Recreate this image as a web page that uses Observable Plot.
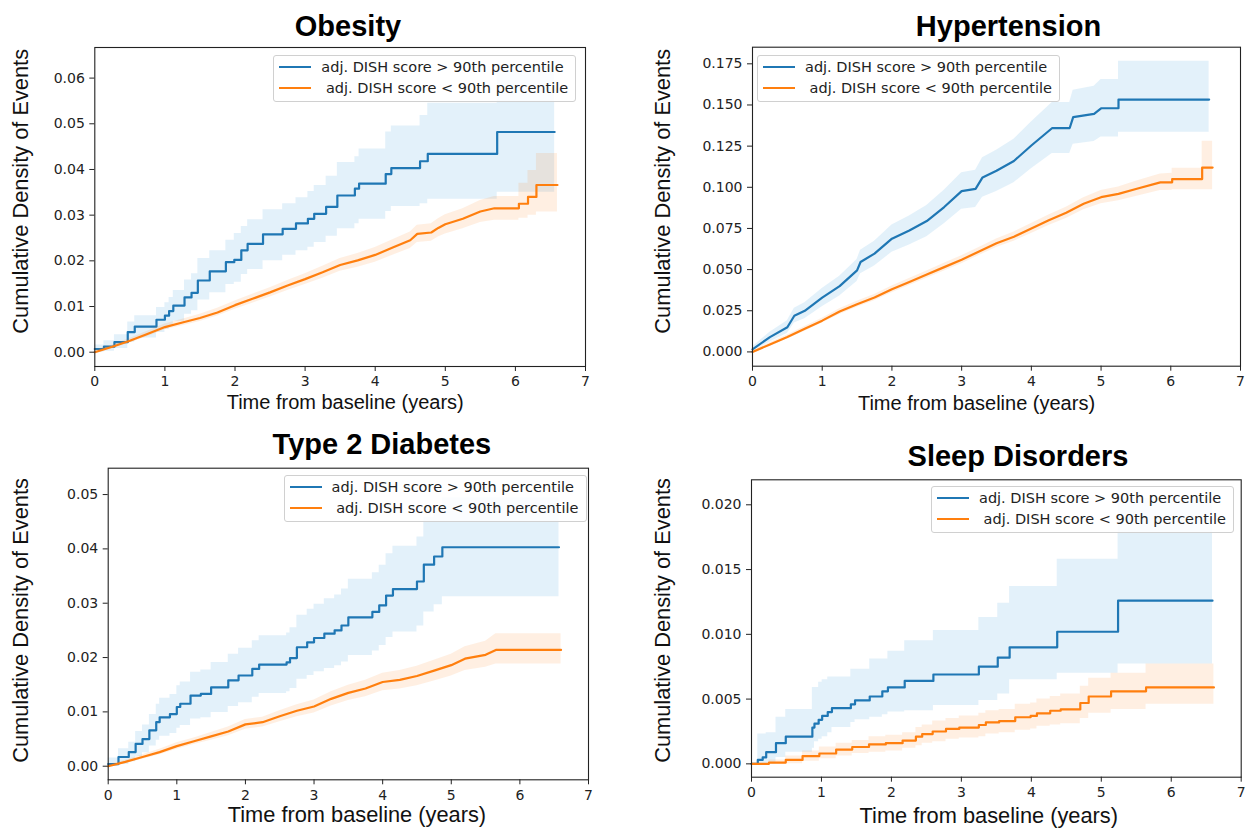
<!DOCTYPE html>
<html>
<head>
<meta charset="utf-8">
<script src="https://cdn.jsdelivr.net/npm/d3@7"></script>
<script src="https://cdn.jsdelivr.net/npm/@observablehq/plot@0.6"></script>
<style>
  body { margin: 0; background: #fff; }
  #fig { position: relative; width: 1253px; height: 831px; overflow: hidden; background: #fff; }
  .panel { position: absolute; }
  .panel svg { display: block; }
  .legend {
    position: absolute; box-sizing: border-box; width: 303px; height: 47px;
    border: 1px solid #d0d0d0; border-radius: 3px; background: rgba(255,255,255,0.85);
    font-family: "DejaVu Sans", sans-serif; font-size: 14.5px; color: #222;
  }
  .legend .sw { position: absolute; left: 5px; width: 32px; height: 2px; }
  .legend .lbl { position: absolute; left: 47px; white-space: pre; line-height: 1; }
</style>
</head>
<body>
<div id="fig"></div>
<script>
// Cumulative density of events: [years, estimate, lower CI, upper CI]

const seriesNames = ["adj. DISH score > 90th percentile", " adj. DISH score < 90th percentile"];
const seriesColors = ["#1f77b4", "#ff7f0e"];
const bandColors = ["#3b99dd", "#ff7f0e"];
const bandOpacity = [0.14, 0.12];
const xTicks = [0, 1, 2, 3, 4, 5, 6, 7];
const xLabel = "Time from baseline (years)";
const yLabel = "Cumulative Density of Events";

// Obesity
const obesityHigh = [
  [0.00, 0.0007, 0.0000, 0.0016], [0.13, 0.0012, 0.0002, 0.0025], [0.28, 0.0022, 0.0008, 0.0038],
  [0.47, 0.0044, 0.0022, 0.0066], [0.57, 0.0056, 0.0031, 0.0080], [0.88, 0.0071, 0.0043, 0.0098],
  [1.00, 0.0080, 0.0050, 0.0108], [1.06, 0.0090, 0.0058, 0.0120], [1.12, 0.0102, 0.0068, 0.0135],
  [1.28, 0.0120, 0.0083, 0.0158], [1.38, 0.0130, 0.0091, 0.0172], [1.47, 0.0157, 0.0114, 0.0205],
  [1.64, 0.0177, 0.0130, 0.0222], [1.87, 0.0197, 0.0148, 0.0245], [1.99, 0.0202, 0.0153, 0.0260],
  [2.09, 0.0223, 0.0170, 0.0275], [2.18, 0.0237, 0.0181, 0.0290], [2.40, 0.0258, 0.0200, 0.0312],
  [2.68, 0.0270, 0.0212, 0.0325], [2.87, 0.0282, 0.0222, 0.0338], [3.04, 0.0292, 0.0230, 0.0352],
  [3.13, 0.0303, 0.0240, 0.0365], [3.30, 0.0318, 0.0254, 0.0385], [3.46, 0.0343, 0.0270, 0.0415],
  [3.71, 0.0358, 0.0281, 0.0428], [3.77, 0.0369, 0.0291, 0.0445], [4.15, 0.0390, 0.0308, 0.0482],
  [4.23, 0.0403, 0.0319, 0.0495], [4.64, 0.0418, 0.0325, 0.0518], [4.75, 0.0434, 0.0335, 0.0545],
  [5.74, 0.0482, 0.0350, 0.0630], [6.56, 0.0482, 0.0350, 0.0630]
];
const obesityLow = [
  [0.00, 0.0000, 0.0000, 0.0004], [0.25, 0.0012, 0.0008, 0.0016], [0.50, 0.0025, 0.0020, 0.0030],
  [0.75, 0.0040, 0.0034, 0.0046], [1.00, 0.0055, 0.0049, 0.0062], [1.25, 0.0065, 0.0058, 0.0072],
  [1.50, 0.0075, 0.0067, 0.0083], [1.75, 0.0087, 0.0079, 0.0096], [2.00, 0.0103, 0.0094, 0.0112],
  [2.25, 0.0117, 0.0107, 0.0127], [2.50, 0.0131, 0.0121, 0.0141], [2.75, 0.0146, 0.0135, 0.0157],
  [3.00, 0.0160, 0.0148, 0.0172], [3.25, 0.0175, 0.0162, 0.0188], [3.50, 0.0191, 0.0177, 0.0205],
  [3.75, 0.0201, 0.0186, 0.0216], [4.00, 0.0213, 0.0197, 0.0229], [4.25, 0.0229, 0.0212, 0.0246],
  [4.50, 0.0245, 0.0227, 0.0263], [4.60, 0.0259, 0.0240, 0.0278], [4.80, 0.0262, 0.0243, 0.0281],
  [4.90, 0.0272, 0.0252, 0.0292], [5.00, 0.0280, 0.0259, 0.0301], [5.25, 0.0292, 0.0270, 0.0314],
  [5.50, 0.0308, 0.0284, 0.0332], [5.70, 0.0315, 0.0289, 0.0341], [6.05, 0.0315, 0.0289, 0.0341],
  [6.05, 0.0325, 0.0293, 0.0370], [6.18, 0.0325, 0.0293, 0.0370], [6.18, 0.0340, 0.0300, 0.0398],
  [6.30, 0.0340, 0.0300, 0.0398], [6.30, 0.0366, 0.0307, 0.0435], [6.60, 0.0366, 0.0307, 0.0435]
];
const obesityTicks = [0, 0.01, 0.02, 0.03, 0.04, 0.05, 0.06];

// Hypertension
const hypertensionHigh = [
  [0.00, 0.0016, 0.0005, 0.0030], [0.25, 0.0090, 0.0060, 0.0120], [0.50, 0.0150, 0.0112, 0.0190],
  [0.60, 0.0220, 0.0175, 0.0265], [0.75, 0.0250, 0.0202, 0.0298], [1.00, 0.0330, 0.0275, 0.0385],
  [1.25, 0.0400, 0.0340, 0.0460], [1.50, 0.0495, 0.0428, 0.0562], [1.55, 0.0546, 0.0475, 0.0617],
  [1.75, 0.0597, 0.0522, 0.0672], [2.00, 0.0688, 0.0605, 0.0771], [2.25, 0.0738, 0.0650, 0.0826],
  [2.50, 0.0795, 0.0700, 0.0890], [2.75, 0.0880, 0.0778, 0.0982], [3.00, 0.0977, 0.0866, 0.1088],
  [3.20, 0.0990, 0.0877, 0.1103], [3.30, 0.1060, 0.0940, 0.1180], [3.50, 0.1100, 0.0975, 0.1225],
  [3.75, 0.1160, 0.1028, 0.1292], [4.00, 0.1254, 0.1112, 0.1396], [4.30, 0.1360, 0.1205, 0.1515],
  [4.55, 0.1360, 0.1205, 0.1515], [4.60, 0.1426, 0.1262, 0.1590], [4.90, 0.1446, 0.1278, 0.1614],
  [5.00, 0.1480, 0.1305, 0.1655], [5.25, 0.1480, 0.1305, 0.1655], [5.25, 0.1533, 0.1335, 0.1765],
  [6.55, 0.1533, 0.1335, 0.1765]
];
const hypertensionLow = [
  [0.00, 0.0000, 0.0000, 0.0008], [0.25, 0.0045, 0.0035, 0.0055], [0.50, 0.0090, 0.0078, 0.0102],
  [0.75, 0.0140, 0.0126, 0.0154], [1.00, 0.0190, 0.0175, 0.0205], [1.25, 0.0245, 0.0228, 0.0262],
  [1.50, 0.0290, 0.0272, 0.0308], [1.75, 0.0330, 0.0311, 0.0349], [2.00, 0.0380, 0.0360, 0.0400],
  [2.25, 0.0425, 0.0404, 0.0446], [2.50, 0.0470, 0.0448, 0.0492], [2.75, 0.0515, 0.0492, 0.0538],
  [3.00, 0.0560, 0.0536, 0.0584], [3.25, 0.0610, 0.0585, 0.0635], [3.50, 0.0660, 0.0634, 0.0686],
  [3.75, 0.0700, 0.0672, 0.0728], [4.00, 0.0750, 0.0720, 0.0780], [4.25, 0.0800, 0.0768, 0.0832],
  [4.50, 0.0845, 0.0811, 0.0879], [4.75, 0.0900, 0.0863, 0.0937], [5.00, 0.0940, 0.0900, 0.0980],
  [5.25, 0.0960, 0.0918, 0.1002], [5.50, 0.0990, 0.0944, 0.1036], [5.85, 0.1030, 0.0980, 0.1080],
  [6.02, 0.1030, 0.0982, 0.1085], [6.02, 0.1050, 0.0985, 0.1115], [6.45, 0.1050, 0.0985, 0.1115],
  [6.45, 0.1120, 0.0985, 0.1280], [6.60, 0.1120, 0.0985, 0.1280]
];
const hypertensionTicks = [0, 0.025, 0.05, 0.075, 0.1, 0.125, 0.15, 0.175];

// Type 2 Diabetes
const diabetesHigh = [
  [0.00, 0.0004, 0.0000, 0.0015], [0.15, 0.0017, 0.0003, 0.0032], [0.30, 0.0026, 0.0008, 0.0044],
  [0.40, 0.0041, 0.0018, 0.0064], [0.50, 0.0050, 0.0025, 0.0076], [0.60, 0.0066, 0.0037, 0.0095],
  [0.70, 0.0081, 0.0048, 0.0114], [0.75, 0.0090, 0.0055, 0.0125], [0.90, 0.0096, 0.0060, 0.0132],
  [1.00, 0.0109, 0.0070, 0.0148], [1.05, 0.0115, 0.0075, 0.0155], [1.20, 0.0130, 0.0087, 0.0173],
  [1.35, 0.0133, 0.0089, 0.0177], [1.50, 0.0145, 0.0099, 0.0191], [1.75, 0.0158, 0.0110, 0.0206],
  [1.90, 0.0167, 0.0117, 0.0217], [2.10, 0.0179, 0.0127, 0.0231], [2.20, 0.0187, 0.0134, 0.0240],
  [2.60, 0.0191, 0.0137, 0.0245], [2.65, 0.0199, 0.0143, 0.0255], [2.75, 0.0219, 0.0160, 0.0278],
  [2.90, 0.0228, 0.0167, 0.0289], [3.00, 0.0236, 0.0174, 0.0298], [3.15, 0.0244, 0.0180, 0.0308],
  [3.30, 0.0250, 0.0185, 0.0315], [3.40, 0.0259, 0.0192, 0.0326], [3.50, 0.0274, 0.0204, 0.0344],
  [3.85, 0.0284, 0.0212, 0.0356], [3.95, 0.0296, 0.0222, 0.0370], [4.05, 0.0314, 0.0237, 0.0391],
  [4.15, 0.0326, 0.0247, 0.0405], [4.50, 0.0340, 0.0258, 0.0422], [4.60, 0.0371, 0.0284, 0.0458],
  [4.75, 0.0386, 0.0297, 0.0475], [4.87, 0.0403, 0.0312, 0.0494], [6.57, 0.0403, 0.0312, 0.0494]
];
const diabetesLow = [
  [0.00, 0.0000, 0.0000, 0.0003], [0.25, 0.0008, 0.0005, 0.0011], [0.50, 0.0017, 0.0013, 0.0021],
  [0.75, 0.0026, 0.0021, 0.0031], [1.00, 0.0037, 0.0031, 0.0043], [1.25, 0.0046, 0.0040, 0.0052],
  [1.50, 0.0055, 0.0048, 0.0062], [1.75, 0.0064, 0.0056, 0.0072], [2.00, 0.0077, 0.0068, 0.0086],
  [2.25, 0.0081, 0.0072, 0.0090], [2.50, 0.0092, 0.0082, 0.0102], [2.75, 0.0102, 0.0091, 0.0113],
  [3.00, 0.0110, 0.0098, 0.0122], [3.25, 0.0124, 0.0111, 0.0137], [3.50, 0.0135, 0.0121, 0.0149],
  [3.75, 0.0143, 0.0128, 0.0158], [4.00, 0.0155, 0.0139, 0.0171], [4.25, 0.0159, 0.0142, 0.0176],
  [4.50, 0.0166, 0.0148, 0.0184], [4.75, 0.0176, 0.0157, 0.0195], [5.00, 0.0186, 0.0166, 0.0206],
  [5.20, 0.0198, 0.0176, 0.0220], [5.50, 0.0205, 0.0182, 0.0230], [5.65, 0.0214, 0.0188, 0.0244],
  [6.60, 0.0214, 0.0188, 0.0244]
];
const diabetesTicks = [0, 0.01, 0.02, 0.03, 0.04, 0.05];

// Sleep Disorders
const sleepHigh = [
  [0.00, 0.0000, 0.0000, 0.0000], [0.09, 0.0003, 0.0000, 0.0023], [0.16, 0.0005, 0.0000, 0.0023],
  [0.21, 0.0009, 0.0000, 0.0024], [0.35, 0.0016, 0.0005, 0.0036], [0.49, 0.0021, 0.0009, 0.0042],
  [0.87, 0.0028, 0.0012, 0.0059], [0.90, 0.0031, 0.0017, 0.0059], [0.96, 0.0034, 0.0019, 0.0063],
  [1.01, 0.0037, 0.0021, 0.0065], [1.09, 0.0040, 0.0024, 0.0067], [1.15, 0.0043, 0.0028, 0.0067],
  [1.42, 0.0046, 0.0032, 0.0073], [1.48, 0.0049, 0.0034, 0.0073], [1.69, 0.0052, 0.0036, 0.0081],
  [1.87, 0.0056, 0.0038, 0.0081], [1.95, 0.0059, 0.0040, 0.0087], [2.19, 0.0064, 0.0041, 0.0095],
  [2.60, 0.0069, 0.0045, 0.0103], [3.25, 0.0075, 0.0049, 0.0113], [3.52, 0.0082, 0.0054, 0.0124],
  [3.69, 0.0090, 0.0065, 0.0137], [4.37, 0.0102, 0.0070, 0.0158], [5.24, 0.0126, 0.0077, 0.0205],
  [6.59, 0.0126, 0.0077, 0.0205]
];
const sleepLow = [
  [0.00, 0.0000, 0.0000, 0.0000], [0.25, 0.0001, 0.0000, 0.0003], [0.49, 0.0003, 0.0000, 0.0006],
  [0.73, 0.0006, 0.0002, 0.0010], [0.97, 0.0008, 0.0004, 0.0013], [1.21, 0.0011, 0.0006, 0.0016],
  [1.44, 0.0013, 0.0008, 0.0018], [1.68, 0.0015, 0.0009, 0.0021], [1.92, 0.0016, 0.0010, 0.0022],
  [2.16, 0.0018, 0.0012, 0.0024], [2.35, 0.0021, 0.0014, 0.0028], [2.44, 0.0023, 0.0016, 0.0030],
  [2.59, 0.0025, 0.0017, 0.0033], [2.78, 0.0027, 0.0019, 0.0035], [2.97, 0.0028, 0.0020, 0.0037],
  [3.25, 0.0030, 0.0021, 0.0039], [3.35, 0.0032, 0.0023, 0.0041], [3.54, 0.0033, 0.0024, 0.0042],
  [3.77, 0.0036, 0.0026, 0.0046], [3.99, 0.0037, 0.0027, 0.0047], [4.08, 0.0039, 0.0029, 0.0050],
  [4.27, 0.0041, 0.0030, 0.0052], [4.42, 0.0042, 0.0031, 0.0054], [4.70, 0.0047, 0.0035, 0.0060],
  [4.82, 0.0052, 0.0039, 0.0066], [5.14, 0.0056, 0.0042, 0.0070], [5.64, 0.0059, 0.0046, 0.0077],
  [6.61, 0.0059, 0.0046, 0.0077]
];
const sleepTicks = [0, 0.005, 0.01, 0.015, 0.02];

// Page layout (absolute page pixels): panel box, plot frame, text anchors.
const panels = [
  {
    title: "Obesity", series: [obesityHigh, obesityLow], curves: ["step-after", "linear"],
    yTicks: obesityTicks, fmt: ".2f", yDomain: [-0.00313, 0.0667],
    box: {x: 0, y: 0, w: 626, h: 420}, frame: {l: 94.3, r: 585, t: 47, b: 366},
    titleAt: [347.5, 35], yLabelAt: [27.1, 190.8], xLabelAt: [344.7, 408.3], xLabelSize: 20,
    legendAt: [273.3, 55]
  },
  {
    title: "Hypertension", series: [hypertensionHigh, hypertensionLow], curves: ["linear", "linear"],
    yTicks: hypertensionTicks, fmt: ".3f", yDomain: [-0.00868, 0.1851],
    box: {x: 626, y: 0, w: 627, h: 420}, frame: {l: 752, r: 1240, t: 46.7, b: 365.7},
    titleAt: [1008, 35], yLabelAt: [669.3, 190.8], xLabelAt: [976, 409.3], xLabelSize: 20,
    legendAt: [757, 55]
  },
  {
    title: "Type 2 Diabetes", series: [diabetesHigh, diabetesLow], curves: ["step-after", "linear"],
    yTicks: diabetesTicks, fmt: ".2f", yDomain: [-0.0025, 0.05485],
    box: {x: 0, y: 420, w: 626, h: 411}, frame: {l: 107.7, r: 588, t: 467.7, b: 779.3},
    titleAt: [381.4, 453.3], yLabelAt: [27.1, 620], xLabelAt: [356.4, 821.7], xLabelSize: 21.8,
    legendAt: [283.6, 475]
  },
  {
    title: "Sleep Disorders", series: [sleepHigh, sleepLow], curves: ["step-after", "step-after"],
    yTicks: sleepTicks, fmt: ".3f", yDomain: [-0.00103, 0.02193],
    box: {x: 626, y: 420, w: 627, h: 411}, frame: {l: 751, r: 1240.7, t: 479.3, b: 776.7},
    titleAt: [1017.5, 465], yLabelAt: [669.3, 620], xLabelAt: [988.3, 822.7], xLabelSize: 21.8,
    legendAt: [931, 486]
  }
];

const fig = document.getElementById("fig");
const sansFont = "'Liberation Sans', Arial, Helvetica, sans-serif";

for (const p of panels) {
  const {box, frame} = p;
  const cx = (frame.l + frame.r) / 2;
  const cy = (frame.t + frame.b) / 2;
  const marks = [];

  p.series.forEach((rows, i) => {
    const data = rows.map(([t, y, lo, hi]) => ({t, y, lo, hi}));
    marks.push(Plot.areaY(data, {x: "t", y1: "lo", y2: "hi", curve: p.curves[i], fill: bandColors[i], fillOpacity: bandOpacity[i]}));
    marks.push(Plot.line(data, {x: "t", y: "y", curve: p.curves[i], stroke: seriesColors[i], strokeWidth: 2.2}));
  });

  marks.push(Plot.frame({stroke: "#222", strokeWidth: 1.1}));
  marks.push(Plot.axisX({ticks: xTicks, tickFormat: (d) => String(d), tickSize: 5, tickPadding: 5, label: null}));
  marks.push(Plot.axisY({ticks: p.yTicks, tickFormat: d3.format(p.fmt), tickSize: 5, tickPadding: 5, label: null}));

  marks.push(Plot.text([p.title], {
    frameAnchor: "top", lineAnchor: "bottom", textAnchor: "middle",
    dx: p.titleAt[0] - cx, dy: p.titleAt[1] - frame.t,
    fontFamily: sansFont, fontWeight: "bold", fontSize: 29, fill: "#000"
  }));
  marks.push(Plot.text([yLabel], {
    frameAnchor: "left", lineAnchor: "bottom", textAnchor: "middle", rotate: -90,
    dx: p.yLabelAt[0] - frame.l, dy: p.yLabelAt[1] - cy,
    fontFamily: sansFont, fontSize: 21.8, fill: "#111"
  }));
  marks.push(Plot.text([xLabel], {
    frameAnchor: "bottom", lineAnchor: "bottom", textAnchor: "middle",
    dx: p.xLabelAt[0] - cx, dy: p.xLabelAt[1] - frame.b,
    fontFamily: sansFont, fontSize: p.xLabelSize, fill: "#111"
  }));

  const chart = Plot.plot({
    width: box.w, height: box.h,
    marginLeft: frame.l - box.x, marginRight: box.x + box.w - frame.r,
    marginTop: frame.t - box.y, marginBottom: box.y + box.h - frame.b,
    x: {domain: [0, 7]},
    y: {domain: p.yDomain},
    style: {fontFamily: "'DejaVu Sans', sans-serif", fontSize: "14px", color: "#222", background: "transparent", overflow: "visible"},
    marks
  });

  const holder = document.createElement("div");
  holder.className = "panel";
  holder.style.left = box.x + "px";
  holder.style.top = box.y + "px";
  holder.style.width = box.w + "px";
  holder.style.height = box.h + "px";
  holder.appendChild(chart);
  fig.appendChild(holder);

  // legend box inside the axes
  const lg = document.createElement("div");
  lg.className = "legend";
  lg.style.left = p.legendAt[0] + "px";
  lg.style.top = p.legendAt[1] + "px";
  const rowCenters = [11.7, 33.3];
  seriesNames.forEach((name, i) => {
    const sw = document.createElement("div");
    sw.className = "sw";
    sw.style.top = (rowCenters[i] - 2) + "px";
    sw.style.background = seriesColors[i];
    lg.appendChild(sw);
    const lbl = document.createElement("div");
    lbl.className = "lbl";
    lbl.style.top = (rowCenters[i] - 8) + "px";
    lbl.textContent = name;
    lg.appendChild(lbl);
  });
  fig.appendChild(lg);
}
</script>
</body>
</html>
